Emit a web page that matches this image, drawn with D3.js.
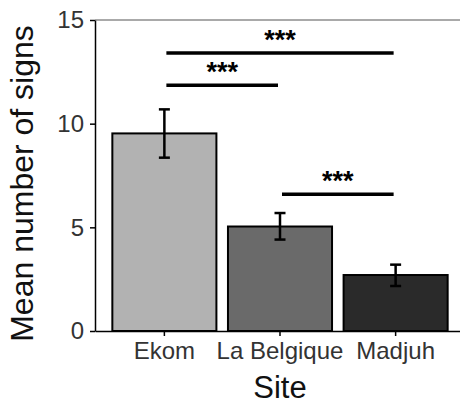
<!DOCTYPE html>
<html>
<head>
<meta charset="utf-8">
<script src="https://cdn.jsdelivr.net/npm/d3@7"></script>
<style>
  body { margin: 0; background: #fff; }
  svg { display: block; font-family: "Liberation Sans", Arial, sans-serif; }
  .axis path, .axis line { stroke: #000; stroke-width: 1.5; }
  .axis text { fill: #333; font-size: 24px; }
</style>
</head>
<body>
<script>
// site means with error bars
const sites = ['Ekom', 'La Belgique', 'Madjuh']
const means = [9.53, 5.04, 2.70]
const errLow = [8.36, 4.41, 2.17]
const errHigh = [10.69, 5.69, 3.20]
const fills = ['#b2b2b2', '#6a6a6a', '#2a2a2a']
const yTicks = [0, 5, 10, 15]

// pairwise comparisons: from site, to site, height, label
const compFrom = ['Ekom', 'Ekom', 'La Belgique']
const compTo = ['Madjuh', 'La Belgique', 'Madjuh']
const compY = [13.41, 11.85, 6.6]
const compLabel = ['***', '***', '***']

const W = 460, H = 405
const margin = { top: 20, right: -5, bottom: 74, left: 95 }
const width = W - margin.left - margin.right
const height = H - margin.top - margin.bottom

const svg = d3.select('body').append('svg')
    .attr('width', W)
    .attr('height', H)
const g = svg.append('g')
    .attr('transform', `translate(${margin.left},${margin.top})`)

const x = d3.scaleBand()
    .domain(sites)
    .range([0, width])
    .paddingInner(0.1)
    .paddingOuter(0.15)

const y = d3.scaleLinear()
    .domain([0, 15])
    .range([height, 0])

// thin line along the top of the panel
g.append('line')
    .attr('x1', 0).attr('x2', width)
    .attr('y1', y(15)).attr('y2', y(15))
    .attr('stroke', '#555')
    .attr('stroke-width', 1)

const data = sites.map((s, i) => ({ site: s, mean: means[i], lo: errLow[i], hi: errHigh[i], fill: fills[i] }))

g.selectAll('rect.bar')
    .data(data)
    .enter().append('rect')
    .attr('class', 'bar')
    .attr('x', d => x(d.site))
    .attr('width', x.bandwidth())
    .attr('y', d => y(d.mean))
    .attr('height', d => y(0) - y(d.mean))
    .attr('fill', d => d.fill)
    .attr('stroke', '#000')
    .attr('stroke-width', 2)

// error bars
const err = g.selectAll('g.err')
    .data(data)
    .enter().append('g')
    .attr('class', 'err')
    .attr('stroke', '#000')
    .attr('stroke-width', 2.5)
const cx = d => x(d.site) + x.bandwidth() / 2
const cap = 5.5
err.append('line')
    .attr('x1', cx).attr('x2', cx)
    .attr('y1', d => y(d.lo)).attr('y2', d => y(d.hi))
err.append('line')
    .attr('x1', d => cx(d) - cap).attr('x2', d => cx(d) + cap)
    .attr('y1', d => y(d.hi)).attr('y2', d => y(d.hi))
err.append('line')
    .attr('x1', d => cx(d) - cap).attr('x2', d => cx(d) + cap)
    .attr('y1', d => y(d.lo)).attr('y2', d => y(d.lo))

// significance brackets
const comps = compFrom.map((f, i) => ({ from: f, to: compTo[i], y: compY[i], label: compLabel[i] }))
const mid = s => x(s) + x.bandwidth() / 2
g.selectAll('line.sig')
    .data(comps)
    .enter().append('line')
    .attr('class', 'sig')
    .attr('x1', d => mid(d.from) + 2).attr('x2', d => mid(d.to) - 2)
    .attr('y1', d => y(d.y)).attr('y2', d => y(d.y))
    .attr('stroke', '#000')
    .attr('stroke-width', 3.5)
g.selectAll('text.sig')
    .data(comps)
    .enter().append('text')
    .attr('class', 'sig')
    .attr('x', d => (mid(d.from) + mid(d.to)) / 2)
    .attr('y', d => y(d.y) - 4)
    .attr('text-anchor', 'middle')
    .attr('font-size', 27)
    .attr('font-weight', 'bold')
    .text(d => d.label)

const xAxis = g.append('g')
    .attr('class', 'x axis')
    .attr('transform', `translate(0,${height})`)
    .call(d3.axisBottom(x).tickSize(5).tickSizeOuter(0).tickPadding(6))
xAxis.selectAll('text').attr('dy', '0.71em')

g.append('g')
    .attr('class', 'y axis')
    .call(d3.axisLeft(y).tickValues(yTicks).tickSize(5).tickSizeOuter(0).tickPadding(6))

// axis titles
svg.append('text')
    .attr('x', margin.left + width / 2)
    .attr('y', 398)
    .attr('text-anchor', 'middle')
    .attr('font-size', 31)
    .attr('fill', '#111')
    .text('Site')

svg.append('text')
    .attr('transform', `translate(33,${margin.top + height / 2 + 8}) rotate(-90)`)
    .attr('text-anchor', 'middle')
    .attr('font-size', 32)
    .attr('fill', '#111')
    .text('Mean number of signs')
</script>
</body>
</html>
